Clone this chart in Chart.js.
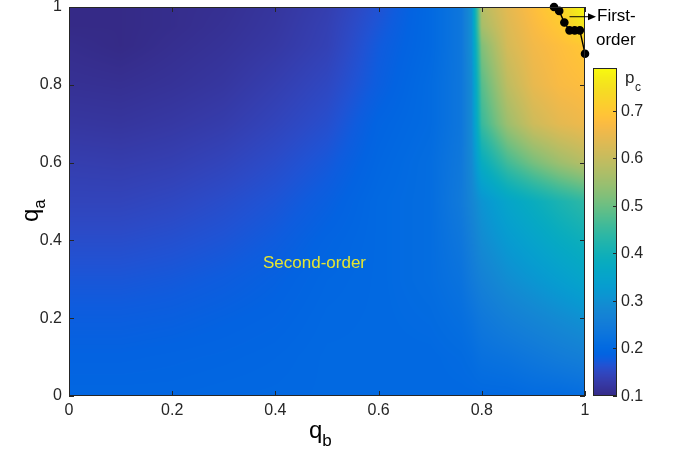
<!DOCTYPE html>
<html><head><meta charset="utf-8">
<script src="https://cdn.jsdelivr.net/npm/chart.js@4.4.1/dist/chart.umd.min.js"></script>
<style>html,body{margin:0;padding:0;background:#fff;}canvas{display:block;}</style>
</head><body>
<canvas id="c" width="675" height="452"></canvas>
<script>
// ---- data ----
const qbGrid = [0, 0.1, 0.2, 0.3, 0.4, 0.5, 0.6, 0.7, 0.76, 0.78, 0.8, 0.85, 0.9, 0.95, 1];
const qaGrid = [0, 0.1, 0.2, 0.3, 0.4, 0.5, 0.6, 0.7, 0.8, 0.9, 0.95, 1];
const pc_qa000 = [0.195,0.195,0.195,0.197,0.198,0.2,0.2,0.2,0.2,0.2,0.2,0.2,0.205,0.205,0.21];
const pc_qa010 = [0.188,0.188,0.19,0.192,0.195,0.2,0.2,0.2,0.205,0.21,0.22,0.227,0.238,0.25,0.26];
const pc_qa020 = [0.18,0.18,0.182,0.186,0.19,0.198,0.2,0.205,0.215,0.225,0.24,0.26,0.275,0.29,0.305];
const pc_qa030 = [0.17,0.17,0.173,0.178,0.185,0.195,0.2,0.21,0.225,0.245,0.265,0.295,0.315,0.335,0.355];
const pc_qa040 = [0.158,0.158,0.162,0.168,0.177,0.19,0.2,0.21,0.235,0.26,0.29,0.325,0.35,0.375,0.395];
const pc_qa050 = [0.145,0.145,0.15,0.158,0.168,0.182,0.2,0.21,0.245,0.275,0.31,0.355,0.385,0.415,0.44];
const pc_qa060 = [0.135,0.133,0.137,0.145,0.157,0.172,0.195,0.21,0.24,0.285,0.38,0.46,0.51,0.55,0.58];
const pc_qa070 = [0.122,0.12,0.125,0.132,0.145,0.16,0.19,0.205,0.235,0.29,0.45,0.55,0.61,0.64,0.655];
const pc_qa080 = [0.112,0.11,0.115,0.122,0.135,0.15,0.18,0.205,0.235,0.29,0.48,0.59,0.645,0.67,0.68];
const pc_qa090 = [0.105,0.1,0.108,0.115,0.125,0.14,0.175,0.2,0.235,0.3,0.52,0.62,0.66,0.68,0.70];
const pc_qa095 = [0.1,0.1,0.105,0.112,0.122,0.138,0.17,0.2,0.235,0.3,0.56,0.63,0.67,0.70,0.76];
const pc_qa100 = [0.1,0.1,0.105,0.11,0.12,0.135,0.165,0.2,0.235,0.3,0.58,0.64,0.68,0.72,0.79];
const pcRows = [pc_qa000,pc_qa010,pc_qa020,pc_qa030,pc_qa040,pc_qa050,pc_qa060,pc_qa070,pc_qa080,pc_qa090,pc_qa095,pc_qa100];

const boundaryQb = [0.94, 0.95, 0.96, 0.97, 0.98, 0.99, 1.0];
const boundaryQa = [1.0, 0.99, 0.96, 0.94, 0.94, 0.94, 0.88];

const axisTicks = [0, 0.2, 0.4, 0.6, 0.8, 1];
const cbMin = 0.1, cbMax = 0.79;
const cbTicks = [0.1, 0.2, 0.3, 0.4, 0.5, 0.6, 0.7];

// ---- parula colormap ----
const parula = [[0.2081,0.1663,0.5292],[0.2116,0.1898,0.5777],[0.2123,0.2138,0.6270],[0.2081,0.2386,0.6771],[0.1959,0.2645,0.7279],[0.1707,0.2919,0.7792],[0.1253,0.3242,0.8303],[0.0591,0.3598,0.8683],[0.0117,0.3875,0.8820],[0.0060,0.4086,0.8828],[0.0165,0.4266,0.8786],[0.0329,0.4430,0.8720],[0.0498,0.4586,0.8641],[0.0629,0.4737,0.8554],[0.0723,0.4887,0.8467],[0.0779,0.5040,0.8384],[0.0793,0.5200,0.8312],[0.0749,0.5375,0.8263],[0.0641,0.5570,0.8240],[0.0488,0.5772,0.8228],[0.0343,0.5966,0.8199],[0.0265,0.6137,0.8135],[0.0239,0.6287,0.8038],[0.0231,0.6418,0.7913],[0.0228,0.6535,0.7768],[0.0267,0.6642,0.7607],[0.0384,0.6743,0.7436],[0.0590,0.6838,0.7254],[0.0843,0.6928,0.7062],[0.1133,0.7015,0.6859],[0.1453,0.7098,0.6646],[0.1801,0.7177,0.6424],[0.2178,0.7250,0.6193],[0.2586,0.7317,0.5954],[0.3022,0.7376,0.5712],[0.3482,0.7424,0.5473],[0.3953,0.7459,0.5244],[0.4420,0.7481,0.5033],[0.4871,0.7491,0.4840],[0.5300,0.7491,0.4661],[0.5709,0.7485,0.4494],[0.6099,0.7473,0.4337],[0.6473,0.7456,0.4188],[0.6834,0.7435,0.4044],[0.7184,0.7411,0.3905],[0.7525,0.7384,0.3768],[0.7858,0.7356,0.3633],[0.8185,0.7327,0.3498],[0.8507,0.7299,0.3360],[0.8824,0.7274,0.3217],[0.9139,0.7258,0.3063],[0.9450,0.7261,0.2886],[0.9739,0.7314,0.2666],[0.9938,0.7455,0.2403],[0.9990,0.7653,0.2164],[0.9955,0.7861,0.1967],[0.9880,0.8066,0.1794],[0.9789,0.8271,0.1633],[0.9697,0.8481,0.1475],[0.9626,0.8705,0.1309],[0.9589,0.8949,0.1132],[0.9598,0.9218,0.0948],[0.9661,0.9514,0.0755],[0.9763,0.9831,0.0538]];
function colorFor(v){
  let t = (v - cbMin) / (cbMax - cbMin);
  t = Math.min(1, Math.max(0, t));
  const f = t * (parula.length - 1);
  const i = Math.min(parula.length - 2, Math.floor(f));
  const u = f - i, a = parula[i], b = parula[i + 1];
  return [0,1,2].map(k => Math.round((a[k] + (b[k] - a[k]) * u) * 255));
}
function seg(arr, v){
  let k = 0;
  while (k < arr.length - 2 && v > arr[k + 1]) k++;
  let u = (v - arr[k]) / (arr[k + 1] - arr[k]);
  return [k, Math.min(1, Math.max(0, u))];
}
const FONT = '"Liberation Sans", Arial, Helvetica, sans-serif';
const TXT = '#262626';

const heatmapPlugin = {
  id: 'heatmap',
  beforeDraw(chart){
    const {ctx, chartArea: a, scales: {x, y}} = chart;
    const L = Math.round(a.left), T = Math.round(a.top);
    const w = Math.round(a.right) - L, h = Math.round(a.bottom) - T;
    const img = ctx.createImageData(w, h);
    const cols = [];
    for (let i = 0; i < w; i++) cols.push(seg(qbGrid, x.getValueForPixel(L + i + 0.5)));
    for (let j = 0; j < h; j++){
      const [ka, ua] = seg(qaGrid, y.getValueForPixel(T + j + 0.5));
      const r0 = pcRows[ka], r1 = pcRows[ka + 1];
      for (let i = 0; i < w; i++){
        const [kb, ub] = cols[i];
        const v0 = r0[kb] + (r0[kb + 1] - r0[kb]) * ub;
        const v1 = r1[kb] + (r1[kb + 1] - r1[kb]) * ub;
        const c = colorFor(v0 + (v1 - v0) * ua);
        const p = (j * w + i) * 4;
        img.data[p] = c[0]; img.data[p + 1] = c[1]; img.data[p + 2] = c[2]; img.data[p + 3] = 255;
      }
    }
    ctx.putImageData(img, L, T);
  }
};

const decorPlugin = {
  id: 'decor',
  afterDraw(chart){
    const {ctx, chartArea: a, scales: {x, y}} = chart;
    ctx.save();
    // box and inward ticks
    ctx.strokeStyle = TXT; ctx.lineWidth = 1;
    ctx.strokeRect(Math.round(a.left) + 0.5, Math.round(a.top) + 0.5, Math.round(a.right - a.left) - 1, Math.round(a.bottom - a.top) - 1);
    ctx.beginPath();
    axisTicks.forEach(t => {
      const px = Math.round(x.getPixelForValue(t)) + 0.5;
      ctx.moveTo(px, a.bottom); ctx.lineTo(px, a.bottom - 5);
      ctx.moveTo(px, a.top); ctx.lineTo(px, a.top + 5);
      const py = Math.round(y.getPixelForValue(t)) + 0.5;
      ctx.moveTo(a.left, py); ctx.lineTo(a.left + 5, py);
      ctx.moveTo(a.right, py); ctx.lineTo(a.right - 5, py);
    });
    ctx.stroke();

    // colorbar
    const cbL = 593, cbR = 617, cbT = 68, cbB = Math.round(a.bottom);
    const cbPix = v => cbB - (v - cbMin) / (cbMax - cbMin) * (cbB - cbT);
    for (let py = cbT; py < cbB; py++){
      const v = cbMax - (py + 0.5 - cbT) / (cbB - cbT) * (cbMax - cbMin);
      const c = colorFor(v);
      ctx.fillStyle = `rgb(${c[0]},${c[1]},${c[2]})`;
      ctx.fillRect(cbL, py, cbR - cbL, 1);
    }
    ctx.strokeStyle = TXT;
    ctx.strokeRect(cbL + 0.5, cbT + 0.5, cbR - cbL - 1, cbB - cbT - 1);
    ctx.fillStyle = TXT; ctx.font = '16px ' + FONT;
    ctx.textAlign = 'left'; ctx.textBaseline = 'middle';
    ctx.beginPath();
    cbTicks.forEach(t => {
      const py = Math.round(cbPix(t)) + 0.5;
      ctx.moveTo(cbR - 4, py); ctx.lineTo(cbR, py);
      ctx.fillText(String(t), 621, py);
    });
    ctx.stroke();
    // p_c label
    ctx.textBaseline = 'alphabetic';
    ctx.font = '17px ' + FONT; ctx.fillText('p', 625, 83);
    ctx.font = '12px ' + FONT; ctx.fillText('c', 635, 91);

    // axis titles
    ctx.fillStyle = '#000';
    ctx.font = '24px ' + FONT; ctx.fillText('q', 309, 438);
    let qw = ctx.measureText('q').width;
    ctx.font = '17px ' + FONT; ctx.fillText('b', 309 + qw, 446);
    ctx.save();
    ctx.translate(38, 222); ctx.rotate(-Math.PI / 2);
    ctx.font = '24px ' + FONT; ctx.fillText('q', 0, 0);
    qw = ctx.measureText('q').width;
    ctx.font = '17px ' + FONT; ctx.fillText('a', qw, 7);
    ctx.restore();

    // annotations
    ctx.font = '17px ' + FONT; ctx.textBaseline = 'middle';
    ctx.fillStyle = '#e6e632';
    ctx.fillText('Second-order', x.getPixelForValue(0.376), y.getPixelForValue(0.342));
    // arrow to "First-order"
    const ax0 = x.getPixelForValue(0.97), ay = y.getPixelForValue(0.975), ax1 = 596;
    ctx.strokeStyle = '#000'; ctx.fillStyle = '#000'; ctx.lineWidth = 1;
    ctx.beginPath(); ctx.moveTo(ax0, ay); ctx.lineTo(ax1 - 6, ay); ctx.stroke();
    ctx.beginPath(); ctx.moveTo(ax1, ay); ctx.lineTo(ax1 - 8, ay - 3.5); ctx.lineTo(ax1 - 8, ay + 3.5); ctx.closePath(); ctx.fill();
    ctx.font = '17px ' + FONT;
    ctx.fillText('First-', 597, ay);
    ctx.fillText('order', 596, ay + 24);
    ctx.restore();
  }
};

const tickFmt = v => String(+Number(v).toFixed(2));

new Chart(document.getElementById('c'), {
  type: 'scatter',
  data: {
    datasets: [{
      label: 'First-order boundary',
      data: boundaryQb.map((qb, i) => ({x: qb, y: boundaryQa[i]})),
      showLine: true,
      borderColor: '#000',
      backgroundColor: '#000',
      borderWidth: 1.4,
      pointRadius: 3.6,
      pointHoverRadius: 3.6,
      clip: false
    }]
  },
  options: {
    responsive: false,
    animation: false,
    devicePixelRatio: 1,
    layout: {padding: {left: 0, right: 90, top: 7, bottom: 0}},
    plugins: {legend: {display: false}, tooltip: {enabled: false}},
    events: [],
    scales: {
      x: {
        type: 'linear', min: 0, max: 1,
        afterBuildTicks: s => { s.ticks = axisTicks.map(v => ({value: v})); },
        afterFit: s => { s.height = 56; s.paddingLeft = 0; s.paddingRight = 0; },
        grid: {display: false, drawTicks: false},
        border: {display: false},
        ticks: {color: TXT, font: {size: 16, family: FONT}, padding: 5, callback: tickFmt, maxRotation: 0}
      },
      y: {
        type: 'linear', min: 0, max: 1,
        afterBuildTicks: s => { s.ticks = axisTicks.map(v => ({value: v})); },
        afterFit: s => { s.width = 69; s.paddingTop = 0; s.paddingBottom = 0; },
        grid: {display: false, drawTicks: false},
        border: {display: false},
        ticks: {color: TXT, font: {size: 16, family: FONT}, padding: 7, callback: tickFmt}
      }
    }
  },
  plugins: [heatmapPlugin, decorPlugin]
});
</script>
</body></html>
